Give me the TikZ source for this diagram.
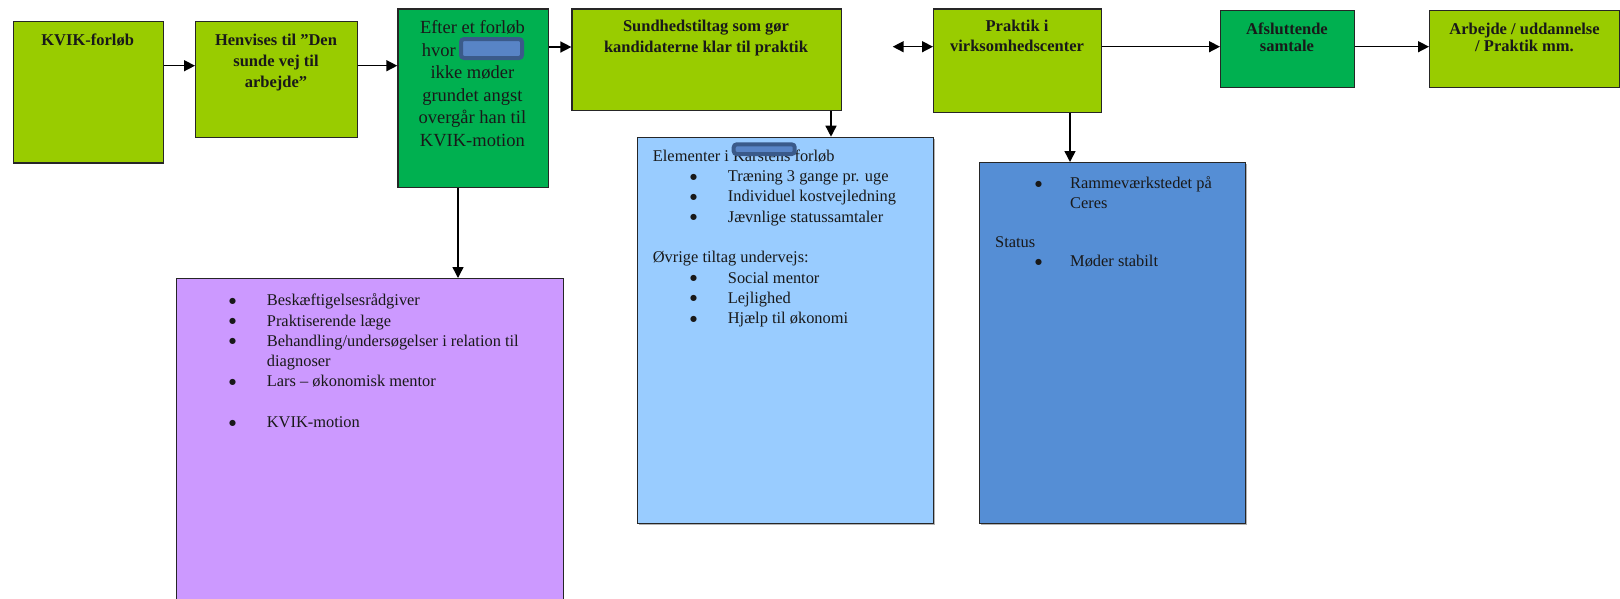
\documentclass[tikz,border=0pt]{standalone}
\usepackage{fontspec}
\setmainfont{Liberation Serif}
\newfontfamily\symf{DejaVu Sans}
\usetikzlibrary{arrows.meta,shadows}
\definecolor{lgreen}{HTML}{99CC00}
\definecolor{dgreen}{HTML}{00B050}
\definecolor{lilac}{HTML}{CC99FF}
\definecolor{skyb}{HTML}{99CCFF}
\definecolor{midb}{HTML}{558ED5}
\definecolor{redin}{RGB}{88,132,198}
\definecolor{redout}{RGB}{58,90,138}
\newcommand\mydot{\raisebox{2.4pt}{{\symf\fontsize{8pt}{8pt}\selectfont ●}}}
\newcommand\myb[2][37.3pt]{\makebox[#1][l]{\hspace*{2.9pt}\makebox[0pt][c]{\mydot}}#2}
\begin{document}
\begin{tikzpicture}[x=1pt,y=-1pt,
  box/.style={draw=black!85, line width=1.2pt, anchor=north west, inner sep=0pt},
  shad/.style={drop shadow={shadow xshift=1pt, shadow yshift=-1.5pt, fill=black!30, opacity=1}},
  lbl/.style={inner sep=0pt, anchor=north, align=center, text=black!90,
              font=\fontsize{16.5pt}{21pt}\selectfont\bfseries},
  body/.style={inner sep=0pt, anchor=north west, align=left, text=black!90,
              font=\fontsize{16.4pt}{20.2pt}\selectfont},
  redact/.style={draw=redout, fill=redin, line width=4pt, rounded corners=3pt, inner sep=0pt},
  arr/.style={line width=1.5pt, -{Triangle[length=11pt,width=11pt]}},
  darr/.style={line width=1.5pt, {Triangle[length=11pt,width=11pt]}-{Triangle[length=11pt,width=11pt]}}]
\useasboundingbox (0,0) rectangle (1620,598);
\clip (0,0) rectangle (1620,598);

% boxes
\node[box, fill=lgreen, minimum width=150pt, minimum height=141.6pt] (b1) at (12.7,20.7) {};
\node[box, fill=lgreen, minimum width=162pt, minimum height=116pt] (b2) at (195,20.7) {};
\node[box, fill=dgreen, minimum width=150.2pt, minimum height=178.4pt] (b3) at (397.3,8.3) {};
\node[box, fill=lgreen, minimum width=269.6pt, minimum height=101.7pt] (b4) at (571.4,8.3) {};
\node[box, fill=lgreen, minimum width=168pt, minimum height=103.4pt] (b5) at (933,8.3) {};
\node[box, fill=dgreen, minimum width=134pt, minimum height=76.7pt] (b6) at (1220,10) {};
\node[box, fill=lgreen, minimum width=190pt, minimum height=76.7pt] (b7) at (1429,10) {};
\node[box, fill=lilac, line width=1pt, minimum width=387pt, minimum height=340pt] (pl) at (176,278) {};
\node[box, shad, fill=skyb, minimum width=296pt, minimum height=386pt] (lb) at (637,136.7) {};
\node[box, shad, fill=midb, minimum width=266pt, minimum height=360.7pt] (bl) at (979,162) {};

% connectors
\coordinate (ya) at (0,65.7);
\coordinate (yb) at (0,47);
\coordinate (yc) at (0,46.7);
\coordinate (dl) at (892.7,46.7);
\coordinate (xa) at (458,0);
\coordinate (xb) at (831,0);
\coordinate (xc) at (1070,0);
\draw[arr] (b1.east |- ya) -- (b2.west |- ya);
\draw[arr] (b2.east |- ya) -- (b3.west |- ya);
\draw[arr] (b3.east |- yb) -- (b4.west |- yb);
\draw[darr] (dl) -- (b5.west |- dl);
\draw[arr] (b5.east |- yc) -- (b6.west |- yc);
\draw[arr] (b6.east |- yc) -- (b7.west |- yc);
\draw[arr] (b3.south -| xa) -- (pl.north -| xa);
\draw[arr] (b4.south -| xb) -- (lb.north -| xb);
\draw[arr] (b5.south -| xc) -- (bl.north -| xc);

% texts
\node[lbl] (t1) at (87.7,32) {\rule{0pt}{13pt}KVIK-forløb};
\node[lbl] (t2) at (276,32) {\rule{0pt}{13pt}Henvises til ”Den\\sunde vej til\\arbejde”};
\node[lbl, font=\fontsize{18.5pt}{22.5pt}\selectfont] (t3) at (472.4,19)
  {\rule{0pt}{14.5pt}Efter et forløb\\\makebox[101pt][l]{hvor}\\ikke møder\\grundet angst\\overgår han til\\KVIK-motion};
\node[lbl] (t4) at (706,18.5) {\rule{0pt}{13pt}Sundhedstiltag som gør\\kandidaterne klar til praktik};
\node[lbl, font=\fontsize{16.5pt}{20pt}\selectfont\bfseries] (t5) at (1017,18.7) {\rule{0pt}{13pt}Praktik i\\virksomhedscenter};
\node[lbl, font=\fontsize{16.5pt}{17.4pt}\selectfont\bfseries] (t6) at (1287,21.3) {\rule{0pt}{13pt}Afsluttende\\samtale};
\node[lbl, font=\fontsize{16.5pt}{17.4pt}\selectfont\bfseries] (t7) at (1524.5,21.3) {\rule{0pt}{13pt}Arbejde / uddannelse\\/ Praktik mm.};

\node[body] (t8) at (229.4,292.7)
  {\rule{0pt}{13pt}\myb{Beskæftigelsesrådgiver}\\
   \myb{Praktiserende læge}\\
   \myb{Behandling/undersøgelser i relation til}\\
   \hspace*{37.3pt}diagnoser\\
   \myb{Lars – økonomisk mentor}\\[21pt]
   \myb{KVIK-motion}};

\node[body, font=\fontsize{16.4pt}{20.3pt}\selectfont] (t9) at (652.7,148)
  {\rule{0pt}{13pt}Elementer i Karstens forløb\\
   \hspace*{37.7pt}\myb{Træning 3 gange pr. uge}\\
   \hspace*{37.7pt}\myb{Individuel kostvejledning}\\
   \hspace*{37.7pt}\myb{Jævnlige statussamtaler}\\[20.3pt]
   Øvrige tiltag undervejs:\\
   \hspace*{37.7pt}\myb{Social mentor}\\
   \hspace*{37.7pt}\myb{Lejlighed}\\
   \hspace*{37.7pt}\myb{Hjælp til økonomi}};

\node[body, font=\fontsize{16.4pt}{19.6pt}\selectfont] (t10) at (995,175.3)
  {\rule{0pt}{13pt}\hspace*{40.4pt}\myb[34.6pt]{Rammeværkstedet på}\\
   \hspace*{75pt}Ceres\\[19.6pt]
   Status\\
   \hspace*{40.4pt}\myb[34.6pt]{Møder stabilt}};

% redaction marks
\node[redact, minimum width=61pt, minimum height=19pt] (r1) at (491.5,48.5) {};
\node[redact, minimum width=61pt, minimum height=9.7pt] (r2) at (764.2,149.2) {};
\end{tikzpicture}
\end{document}
